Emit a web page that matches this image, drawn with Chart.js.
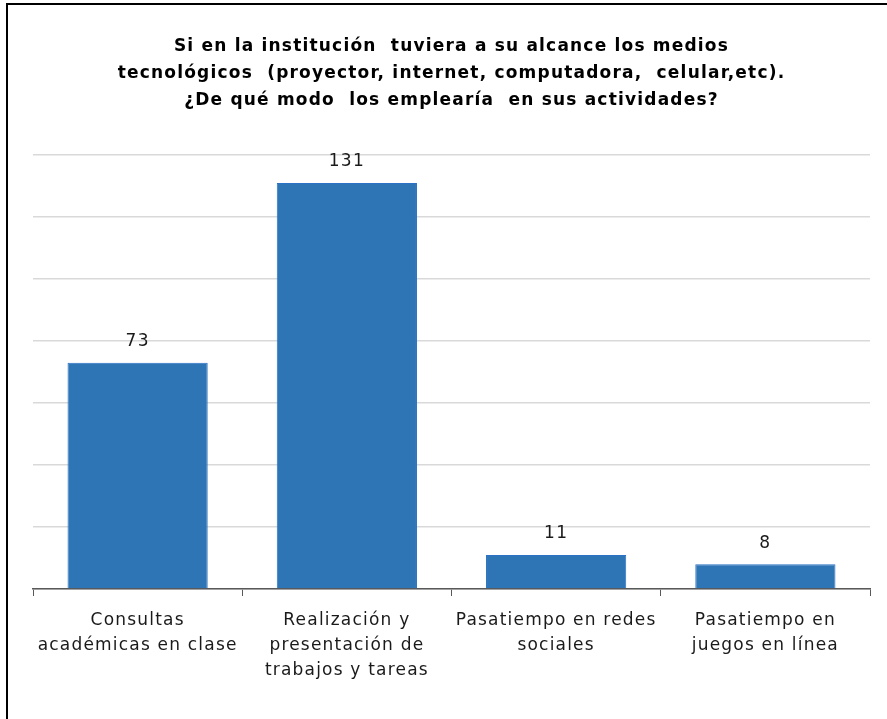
<!DOCTYPE html>
<html>
<head>
<meta charset="utf-8">
<script src="https://cdn.jsdelivr.net/npm/chart.js@4"></script>
<style>
  html, body { margin: 0; padding: 0; background: #fff; }
  #frame { position: absolute; left: 6px; top: 3px; width: 900px; height: 800px; border-left: 2px solid #000; border-top: 2px solid #000; box-sizing: border-box; }
  #wrap { position: absolute; left: 0; top: 0; width: 887px; height: 719px; }
</style>
</head>
<body>
<div id="frame"></div>
<div id="wrap"><canvas id="c" width="887" height="719"></canvas></div>
<script>
const titleLines = [
  "Si en la institución  tuviera a su alcance los medios",
  "tecnológicos  (proyector, internet, computadora,  celular,etc).",
  "¿De qué modo  los emplearía  en sus actividades?"
];
const categories = [
  ["Consultas", "académicas en clase"],
  ["Realización y", "presentación de", "trabajos y tareas"],
  ["Pasatiempo en redes", "sociales"],
  ["Pasatiempo en", "juegos en línea"]
];
const values = [73, 131, 11, 8];
const yMax = 140;
const yStep = 20;

const FONT = "'DejaVu Sans', sans-serif";
const SPACING = '1.2px';

const spacingPlugin = {
  id: 'spacing',
  beforeLayout(chart) { chart.ctx.letterSpacing = SPACING; },
  beforeDraw(chart) { chart.ctx.letterSpacing = SPACING; }
};

const valueLabels = {
  id: 'valueLabels',
  afterDatasetsDraw(chart) {
    const ctx = chart.ctx;
    const meta = chart.getDatasetMeta(0);
    ctx.save();
    ctx.letterSpacing = SPACING;
    ctx.font = "17px " + FONT;
    ctx.fillStyle = "#1a1a1a";
    ctx.textAlign = "center";
    ctx.textBaseline = "middle";
    meta.data.forEach((bar, i) => {
      ctx.fillText(String(values[i]), bar.x, bar.y - 21);
    });
    ctx.restore();
  }
};

new Chart(document.getElementById('c'), {
  type: 'bar',
  data: {
    labels: categories,
    datasets: [{
      data: values,
      backgroundColor: '#2E75B6',
      borderColor: '#2B72C4',
      borderWidth: 1,
      categoryPercentage: 1,
      barPercentage: 0.67
    }]
  },
  options: {
    responsive: false,
    animation: false,
    layout: { padding: { left: 33, right: 17, top: 0, bottom: 0 } },
    plugins: {
      legend: { display: false },
      tooltip: { enabled: false },
      title: {
        display: true,
        text: titleLines,
        color: '#000',
        font: { family: FONT, size: 17, weight: 'bold', lineHeight: '27px' },
        padding: { top: 33, bottom: 41 }
      }
    },
    scales: {
      x: {
        offset: true,
        grid: { offset: true, drawOnChartArea: false, drawTicks: true, tickLength: 7, color: '#595959', lineWidth: 1 },
        border: { display: true, color: '#595959', width: 1.5 },
        ticks: {
          color: '#1a1a1a',
          font: { family: FONT, size: 17, lineHeight: '25px' },
          padding: 12,
          maxRotation: 0,
          autoSkip: false
        },
        afterFit(scale) { scale.height = 130; }
      },
      y: {
        min: 0,
        max: yMax,
        ticks: { display: false, stepSize: yStep },
        grid: { color: '#d9d9d9', lineWidth: 1.5, drawTicks: false },
        border: { display: false },
        afterFit(scale) { scale.width = 0; }
      }
    }
  },
  plugins: [spacingPlugin, valueLabels]
});
</script>
</body>
</html>
